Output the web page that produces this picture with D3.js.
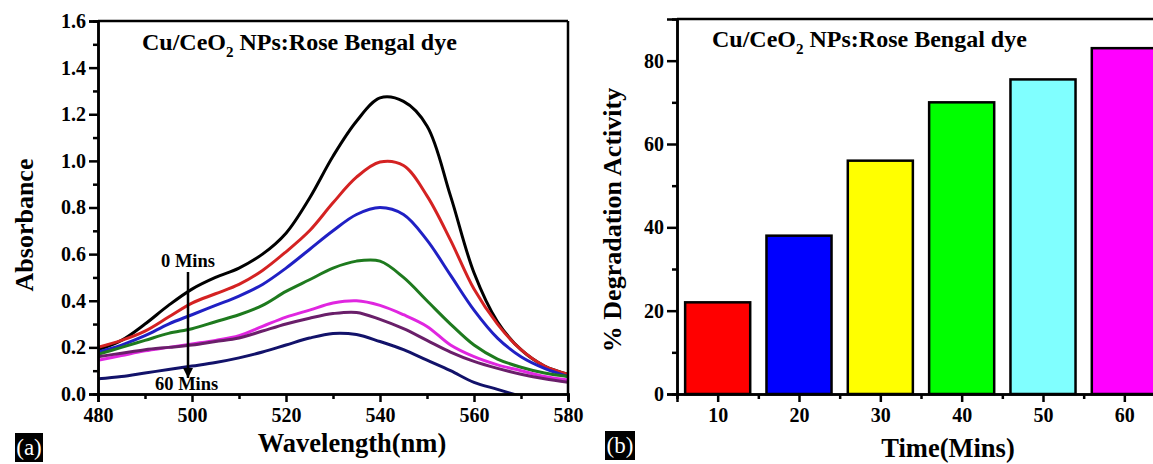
<!DOCTYPE html>
<html>
<head>
<meta charset="utf-8">
<script src="https://cdn.jsdelivr.net/npm/d3@7"></script>
<style>
  body { margin: 0; background: #fff; }
  svg { display: block; }
  text { font-family: "Liberation Serif", "Times New Roman", serif; }
  .axis text { font-size: 20px; font-weight: bold; fill: #000; }
  .axis path, .axis line { stroke: #000; stroke-width: 2.5px; }
</style>
</head>
<body>
<svg width="1153" height="464"></svg>
<script>
// ---- panel (a) data : absorbance spectra ----
var wavelengths = [480, 485, 490, 495, 500, 505, 510, 515, 520, 525, 530, 535, 540, 545, 550, 555, 560, 565, 570, 575, 580];
var abs0  = [0.19, 0.23, 0.30, 0.38, 0.45, 0.50, 0.54, 0.60, 0.69, 0.84, 1.02, 1.17, 1.27, 1.255, 1.15, 0.85, 0.52, 0.31, 0.19, 0.12, 0.085];
var abs10 = [0.20, 0.23, 0.27, 0.33, 0.39, 0.43, 0.47, 0.53, 0.61, 0.70, 0.82, 0.93, 0.995, 0.98, 0.85, 0.66, 0.45, 0.30, 0.19, 0.12, 0.085];
var abs20 = [0.18, 0.21, 0.25, 0.30, 0.34, 0.38, 0.42, 0.47, 0.54, 0.62, 0.70, 0.77, 0.80, 0.77, 0.66, 0.51, 0.36, 0.24, 0.16, 0.11, 0.075];
var abs30 = [0.17, 0.20, 0.23, 0.26, 0.28, 0.31, 0.34, 0.38, 0.44, 0.49, 0.54, 0.57, 0.57, 0.50, 0.40, 0.30, 0.21, 0.15, 0.115, 0.09, 0.075];
var abs40 = [0.145, 0.165, 0.185, 0.20, 0.215, 0.23, 0.25, 0.29, 0.33, 0.36, 0.39, 0.40, 0.38, 0.34, 0.29, 0.21, 0.16, 0.125, 0.10, 0.075, 0.06];
var abs50 = [0.16, 0.175, 0.19, 0.20, 0.21, 0.225, 0.24, 0.27, 0.30, 0.325, 0.345, 0.35, 0.32, 0.28, 0.23, 0.18, 0.14, 0.11, 0.085, 0.065, 0.05];
var abs60 = [0.065, 0.075, 0.09, 0.105, 0.12, 0.135, 0.155, 0.18, 0.21, 0.24, 0.26, 0.255, 0.225, 0.19, 0.145, 0.10, 0.05, 0.02, -0.01, -0.04, -0.07];
var spectra = [abs0, abs10, abs20, abs30, abs40, abs50, abs60];
var spectraColors = ["#000000", "#d42222", "#2020c4", "#1e7a1e", "#e026e0", "#6a1f6a", "#12126a"];

var absTicks = [0, 0.2, 0.4, 0.6, 0.8, 1.0, 1.2, 1.4, 1.6];
var absMinor = [0.1, 0.3, 0.5, 0.7, 0.9, 1.1, 1.3, 1.5];
var wlTicks = [480, 500, 520, 540, 560, 580];
var wlMinor = [490, 510, 530, 550, 570];

// ---- panel (b) data : degradation bars ----
var times = [10, 20, 30, 40, 50, 60];
var degradation = [22, 38, 56, 70, 75.5, 83];
var barColors = ["#ff0000", "#0000ff", "#ffff00", "#00ff00", "#80ffff", "#ff00ff"];
var degTicks = [0, 20, 40, 60, 80];
var degMinor = [10, 30, 50, 70];
var timeMinor = [15, 25, 35, 45, 55];

var svg = d3.select("svg");

// helper for the title with CeO2 subscript
function addTitle(x, y) {
    var t = svg.append("text")
        .attr("x", x).attr("y", y)
        .style("font-size", "24px").style("font-weight", "bold");
    t.append("tspan").text("Cu/CeO");
    t.append("tspan").attr("dy", 7).style("font-size", "15px").text("2");
    t.append("tspan").attr("dy", -7).text(" NPs:Rose Bengal dye");
}

function panelLabel(x, y, w, h, txt) {
    svg.append("rect").attr("x", x).attr("y", y).attr("width", w).attr("height", h).attr("fill", "#000");
    svg.append("text").attr("x", x + w / 2).attr("y", y + h - 7)
        .attr("text-anchor", "middle").attr("fill", "#fff")
        .style("font-size", "23px").text(txt);
}

// ================= panel (a) =================
var ax = d3.scaleLinear().domain([480, 580]).range([98, 568]);
var ay = d3.scaleLinear().domain([0, 1.6]).range([394, 21]);

svg.append("clipPath").attr("id", "clipA")
  .append("rect").attr("x", 98).attr("y", 21).attr("width", 470).attr("height", 373);

var line = d3.line()
    .x(function(d, i) { return ax(wavelengths[i]); })
    .y(function(d) { return ay(d); })
    .curve(d3.curveCatmullRom);

svg.append("g").attr("clip-path", "url(#clipA)")
  .selectAll("path")
  .data(spectra)
  .enter().append("path")
    .attr("d", line)
    .attr("fill", "none")
    .attr("stroke", function(d, i) { return spectraColors[i]; })
    .attr("stroke-width", 3);

// frame top / right
svg.append("line").attr("x1", ax(480)).attr("x2", ax(580)).attr("y1", ay(1.6)).attr("y2", ay(1.6))
    .attr("stroke", "#000").attr("stroke-width", 2.5);
svg.append("line").attr("x1", ax(580)).attr("x2", ax(580)).attr("y1", ay(1.6)).attr("y2", ay(0))
    .attr("stroke", "#000").attr("stroke-width", 2.5);

// axes
svg.append("g").attr("class", "axis")
    .attr("transform", "translate(98,0)")
    .call(d3.axisLeft(ay).tickValues(absMinor).tickSize(5).tickFormat(""));
svg.append("g").attr("class", "axis")
    .attr("transform", "translate(98,0)")
    .call(d3.axisLeft(ay).tickValues(absTicks).tickSize(9).tickPadding(3).tickFormat(d3.format(".1f")));
svg.append("g").attr("class", "axis")
    .attr("transform", "translate(0,394)")
    .call(d3.axisBottom(ax).tickValues(wlMinor).tickSize(5).tickFormat(""));
svg.append("g").attr("class", "axis")
    .attr("transform", "translate(0,394)")
    .call(d3.axisBottom(ax).tickValues(wlTicks).tickSize(8).tickPadding(6).tickFormat(d3.format("d")));

addTitle(142, 50);

// arrow 0 -> 60 mins
svg.append("defs").append("marker")
    .attr("id", "arrowHead").attr("viewBox", "0 0 10 10")
    .attr("refX", 10).attr("refY", 5)
    .attr("markerWidth", 4).attr("markerHeight", 5)
    .attr("markerUnits", "strokeWidth").attr("orient", "auto")
  .append("path").attr("d", "M0,0L10,5L0,10Z").attr("fill", "#000");
svg.append("line")
    .attr("x1", 188).attr("x2", 188).attr("y1", 272).attr("y2", 378)
    .attr("stroke", "#000").attr("stroke-width", 2.5)
    .attr("marker-end", "url(#arrowHead)");
svg.append("text").attr("x", 161).attr("y", 267)
    .style("font-size", "18.5px").style("font-weight", "bold").text("0 Mins");
svg.append("text").attr("x", 155).attr("y", 390)
    .style("font-size", "18.5px").style("font-weight", "bold").text("60 Mins");

svg.append("text")
    .attr("transform", "translate(33,225) rotate(-90)")
    .attr("text-anchor", "middle")
    .style("font-size", "26px").style("font-weight", "bold")
    .text("Absorbance");
svg.append("text")
    .attr("x", 352).attr("y", 452)
    .attr("text-anchor", "middle")
    .style("font-size", "26.5px").style("font-weight", "bold")
    .text("Wavelength(nm)");

panelLabel(15, 433, 28, 29, "(a)");

// ================= panel (b) =================
var bx = d3.scaleLinear().domain([5, 65]).range([677, 1165]);
var by = d3.scaleLinear().domain([0, 90]).range([394, 19]);

svg.append("g").selectAll("rect")
    .data(degradation)
    .enter().append("rect")
    .attr("x", function(d, i) { return bx(times[i] - 4); })
    .attr("width", function(d, i) { return bx(times[i] + 4) - bx(times[i] - 4); })
    .attr("y", function(d) { return by(d); })
    .attr("height", function(d) { return by(0) - by(d); })
    .attr("fill", function(d, i) { return barColors[i]; })
    .attr("stroke", "#000").attr("stroke-width", 2.5);

svg.append("line").attr("x1", bx(5)).attr("x2", bx(65)).attr("y1", by(90)).attr("y2", by(90))
    .attr("stroke", "#000").attr("stroke-width", 2.5);

svg.append("g").attr("class", "axis")
    .attr("transform", "translate(677,0)")
    .call(d3.axisLeft(by).tickValues(degMinor).tickSize(5).tickFormat(""));
svg.append("g").attr("class", "axis")
    .attr("transform", "translate(677,0)")
    .call(d3.axisLeft(by).tickValues(degTicks).tickSize(10).tickPadding(3).tickFormat(d3.format("d")));
svg.append("g").attr("class", "axis")
    .attr("transform", "translate(0,394)")
    .call(d3.axisBottom(bx).tickValues(timeMinor).tickSize(5).tickFormat(""));
svg.append("g").attr("class", "axis")
    .attr("transform", "translate(0,394)")
    .call(d3.axisBottom(bx).tickValues(times).tickSize(8).tickPadding(6).tickFormat(d3.format("d")));

addTitle(712, 47);

svg.append("text")
    .attr("transform", "translate(621,220) rotate(-90)")
    .attr("text-anchor", "middle")
    .style("font-size", "26px").style("font-weight", "bold")
    .text("% Degradation Activity");
svg.append("text")
    .attr("x", 948).attr("y", 457)
    .attr("text-anchor", "middle")
    .style("font-size", "26.5px").style("font-weight", "bold")
    .text("Time(Mins)");

panelLabel(605, 431, 30, 29, "(b)");
</script>
</body>
</html>
